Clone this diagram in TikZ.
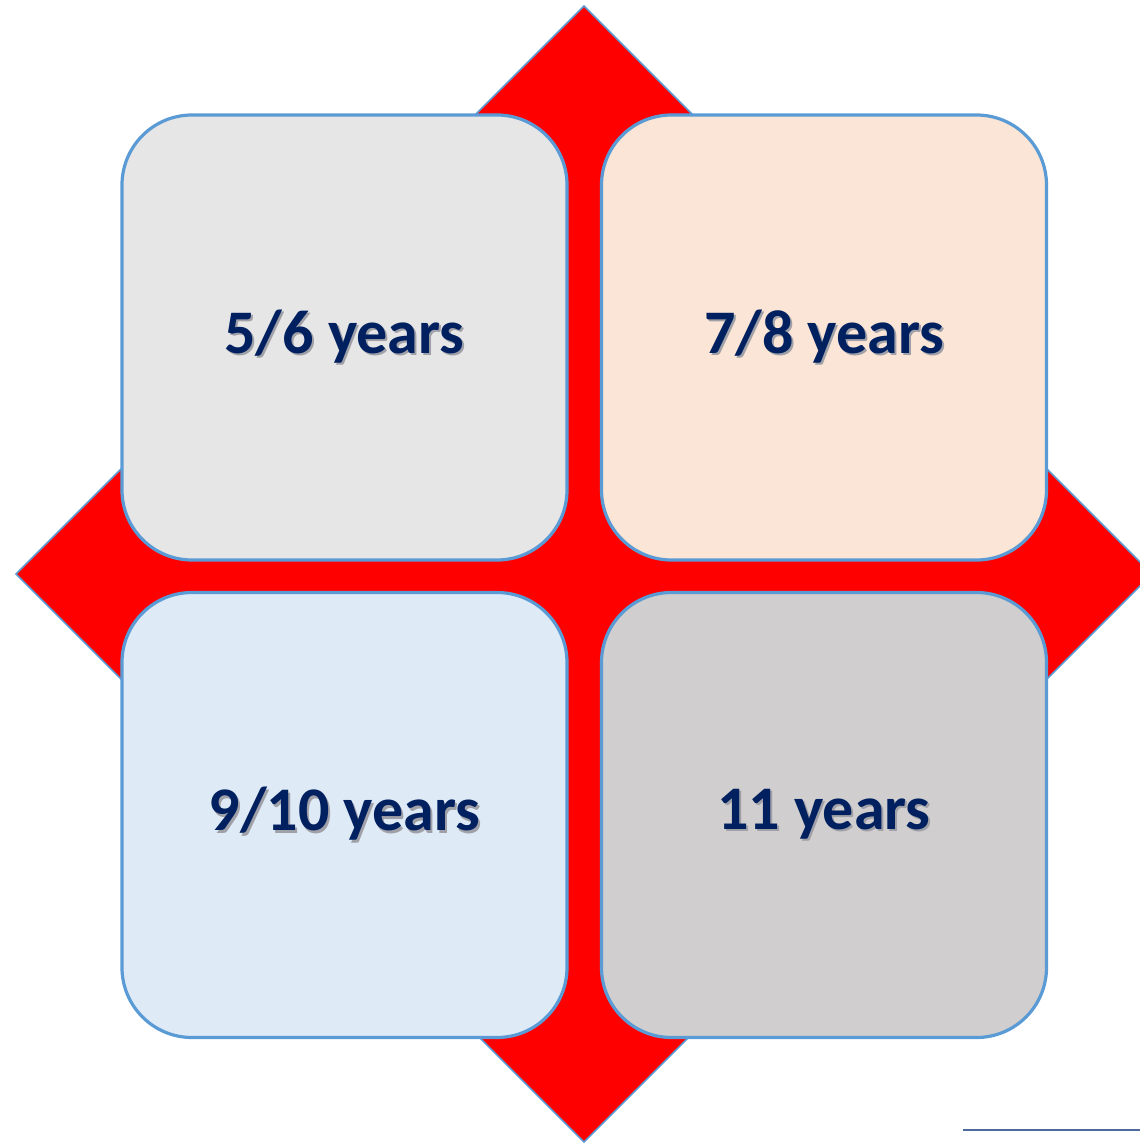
\documentclass[tikz,border=0pt]{standalone}
\usepackage{fontspec}
\setmainfont{Carlito}
\definecolor{edgeblue}{HTML}{5B9BD5}
\definecolor{navy}{HTML}{002060}
\definecolor{fillA}{HTML}{E6E6E6}
\definecolor{fillB}{HTML}{FBE5D6}
\definecolor{fillC}{HTML}{DEEBF7}
\definecolor{fillD}{HTML}{D0CECE}
\definecolor{rulecol}{HTML}{4F6A9A}
\definecolor{shadowcol}{HTML}{A0A0A8}
\newcommand{\shadowtext}[1]{\makebox[0pt][l]{\hspace{2pt}\raisebox{-2.5pt}{\color{shadowcol}#1}}#1}
\tikzset{
  agebox/.style={draw=edgeblue, line width=3.2pt, rounded corners=70pt,
    minimum width=445pt, minimum height=445pt, inner sep=0pt,
    font=\bfseries\fontsize{62}{70}\selectfont, text=navy},
}
\begin{document}
\begin{tikzpicture}[x=1pt,y=-1pt]
\useasboundingbox (0,0) rectangle (1140,1143);
\begin{scope}
\clip (0,0) rectangle (1140,1143);
\draw[fill=red, draw=edgeblue, line width=1.5pt]
  (584,6) coordinate (dt) -- (1152,574) coordinate (dr) -- (584,1142) coordinate (db) -- (16,574) coordinate (dl) -- cycle;
\end{scope}
\node[agebox, fill=fillA] (a) at (344.5,337.5) {\shadowtext{5/6 years}};
\node[agebox, fill=fillB] (b) at (824,337.5) {\shadowtext{7/8 years}};
\node[agebox, fill=fillC] (c) at (344.5,815) {\shadowtext{9/10 years}};
\node[agebox, fill=fillD] (d) at (824,815) {\shadowtext{11 years}};
\coordinate (r1) at (963,1130);
\coordinate (r2) at (1140,1130);
\draw[rulecol, line width=1.5pt] (r1) -- (r2);
\end{tikzpicture}
\end{document}
